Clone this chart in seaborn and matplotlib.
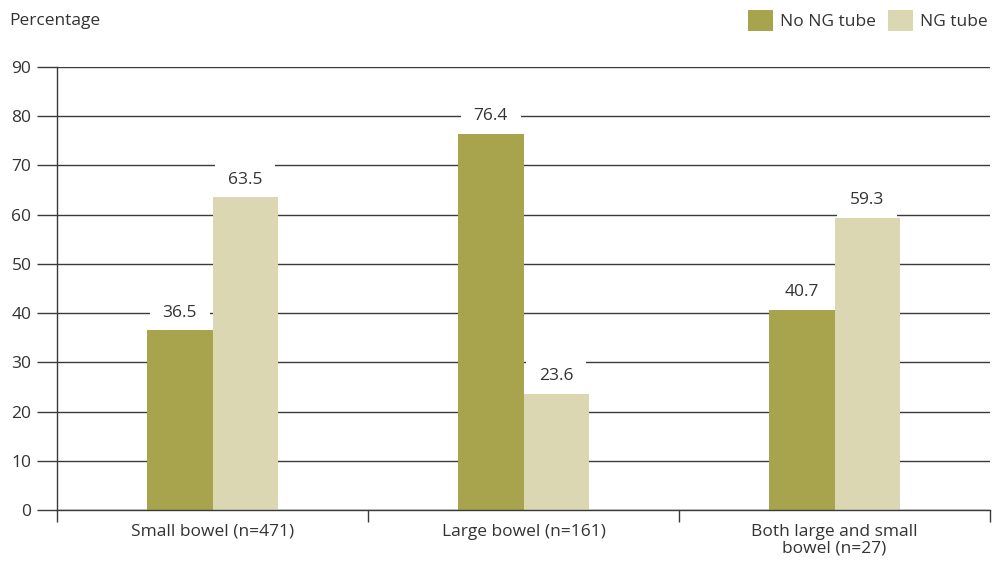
import matplotlib
matplotlib.use("Agg")
import matplotlib.pyplot as plt
from matplotlib.patches import Patch
import seaborn as sns
import pandas as pd

categories = ["Small bowel (n=471)", "Large bowel (n=161)", "Both large and small\nbowel (n=27)"]
series_names = ["No NG tube", "NG tube"]
no_ng_tube = [36.5, 76.4, 40.7]
ng_tube = [63.5, 23.6, 59.3]
y_ticks = [0, 10, 20, 30, 40, 50, 60, 70, 80, 90]

colors = ["#A8A44E", "#DAD7B2"]
text_color = "#333333"
line_color = "#3a3a3a"
fs = 12.5

sns.set_theme(style="white")
plt.rcParams["font.family"] = ["Open Sans", "DejaVu Sans"]

df = pd.DataFrame({
    "category": categories * 2,
    "group": [series_names[0]] * 3 + [series_names[1]] * 3,
    "value": no_ng_tube + ng_tube,
})

fig = plt.figure(figsize=(9.92, 5.62), dpi=100)
ax = fig.add_axes([57 / 992, 1 - 510 / 562, (990 - 57) / 992, (510 - 67) / 562])

sns.barplot(data=df, x="category", y="value", hue="group", order=categories,
            hue_order=series_names, palette=colors, width=0.42, saturation=1,
            linewidth=0, edgecolor="none", ax=ax, legend=False, zorder=2)

ax.set_xlim(-0.5, 2.5)
ax.set_ylim(0, 90)
ax.set_yticks(y_ticks)
ax.yaxis.grid(True, color=line_color, linewidth=1.0)
ax.set_axisbelow(True)

for side in ["top", "right"]:
    ax.spines[side].set_visible(False)
for side in ["left", "bottom"]:
    ax.spines[side].set_color(line_color)
    ax.spines[side].set_linewidth(1.0)

ax.tick_params(axis="y", which="major", length=14.4, width=1.0, color=line_color,
               direction="out", pad=4, labelsize=fs, labelcolor=text_color, left=True)
ax.set_xticks([0, 1, 2])
ax.set_xticklabels(categories, fontsize=fs, color=text_color, linespacing=1.05)
ax.set_xticks([-0.5, 0.5, 1.5, 2.5], minor=True)
ax.tick_params(axis="x", which="major", length=0, pad=10)
ax.tick_params(axis="x", which="minor", length=8.6, width=1.0, color=line_color,
               direction="out", bottom=True)
ax.set_xlabel("")
ax.set_ylabel("")

# value labels sit on a white box that interrupts the gridlines but stays under the bars
for container in ax.containers:
    labels = ax.bar_label(container, fmt="%.1f", padding=7, fontsize=fs, color=text_color,
                          bbox=dict(boxstyle="square,pad=0.75", facecolor="white",
                                    edgecolor="none"))
    for t in labels:
        t.set_zorder(1)

fig.text(9 / 992, 1 - 21 / 562, "Percentage", fontsize=fs, color=text_color,
         ha="left", va="center")

handles = [Patch(facecolor=c, edgecolor="none") for c in colors]
fig.legend(handles, series_names, loc="upper right", bbox_to_anchor=(1.006, 1.0),
           ncol=2, frameon=False, fontsize=fs, labelcolor=text_color,
           handlelength=1.45, handleheight=1.45, handletextpad=0.4,
           columnspacing=0.7, borderaxespad=0.2)

fig.savefig("out.png", dpi=100, facecolor="white")
